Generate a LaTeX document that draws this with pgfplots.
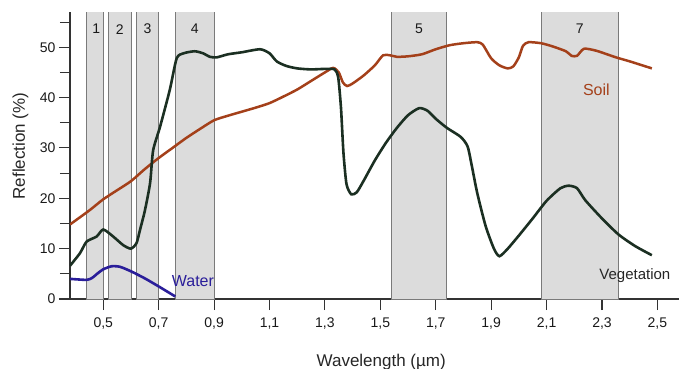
\documentclass[border=0pt]{standalone}
\usepackage{fontspec}
\setmainfont{Liberation Sans}
\usepackage{pgfplots}
\pgfplotsset{compat=1.18}
\definecolor{soilc}{HTML}{A4401A}
\definecolor{vegc}{HTML}{1B2F22}
\definecolor{waterc}{HTML}{2A1E9A}
\definecolor{bandc}{HTML}{DCDCDC}
\definecolor{edgec}{HTML}{7A7A7A}
\begin{document}
\begin{tikzpicture}
\begin{axis}[
  at={(0,0)}, anchor=south west,
  scale only axis, width=609bp, height=287bp,
  xmin=0.38, xmax=2.578, ymin=0, ymax=57,
  axis x line=bottom, axis y line=left,
  axis line style={-, draw=black!80, line width=1.1bp},
  tick align=outside,
  major tick length=11bp, minor tick length=10bp,
  tick style={draw=black!80, line width=1.1bp},
  xtick={0.5,0.7,...,2.5},
  ytick={0,10,...,50},
  minor ytick={5,15,25,35,45,55},
  /pgf/number format/assume math mode=true,
  xticklabel style={/pgf/number format/use comma, /pgf/number format/fixed, /pgf/number format/fixed zerofill, /pgf/number format/precision=1, yshift=-4bp},
  ticklabel style={font=\fontsize{14bp}{16bp}\selectfont, text=black!90},
  xlabel={Wavelength (µm)},
  ylabel={Reflection (\%)},
  label style={font=\fontsize{17bp}{20bp}\selectfont, text=black!85},
  xlabel style={at={(axis description cs:0.511,0)}, anchor=base, yshift=-67bp},
  ylabel style={at={(axis description cs:-0.074,0.533)}, anchor=base},
  clip=true,
]
% bands
\addplot[fill=bandc, draw=edgec, line width=0.9bp] coordinates {(0.44,0) (0.44,60) (0.50,60) (0.50,0)} -- cycle;
\addplot[fill=bandc, draw=edgec, line width=0.9bp] coordinates {(0.52,0) (0.52,60) (0.60,60) (0.60,0)} -- cycle;
\addplot[fill=bandc, draw=edgec, line width=0.9bp] coordinates {(0.62,0) (0.62,60) (0.70,60) (0.70,0)} -- cycle;
\addplot[fill=bandc, draw=edgec, line width=0.9bp] coordinates {(0.76,0) (0.76,60) (0.90,60) (0.90,0)} -- cycle;
\addplot[fill=bandc, draw=edgec, line width=0.9bp] coordinates {(1.54,0) (1.54,60) (1.74,60) (1.74,0)} -- cycle;
\addplot[fill=bandc, draw=edgec, line width=0.9bp] coordinates {(2.08,0) (2.08,60) (2.36,60) (2.36,0)} -- cycle;
% water
\addplot[waterc, line width=2.6bp, smooth, tension=0.4] coordinates {
(0.38,4.0) (0.44,3.8) (0.46,4.2) (0.48,5.1) (0.50,5.9) (0.53,6.5) (0.56,6.4)
(0.60,5.5) (0.65,4.1) (0.70,2.5) (0.76,0.5)};
% soil
\addplot[soilc, line width=2.5bp, smooth, tension=0.4] coordinates {
(0.38,14.8) (0.45,17.6) (0.50,19.8) (0.55,21.6) (0.60,23.4) (0.65,25.8) (0.70,28.0)
(0.75,30.0) (0.80,32.0) (0.85,33.8) (0.90,35.5) (0.95,36.4) (1.00,37.2) (1.05,38.0)
(1.10,38.9) (1.15,40.2) (1.20,41.6) (1.25,43.3) (1.30,45.0) (1.33,45.9) (1.35,45.0)
(1.365,43.0) (1.38,42.3) (1.40,42.8) (1.44,44.4) (1.48,46.4) (1.51,48.4) (1.535,48.4)
(1.56,48.1) (1.60,48.2) (1.65,48.6) (1.70,49.6) (1.75,50.4) (1.80,50.8) (1.85,51.0)
(1.87,50.5) (1.90,47.8) (1.93,46.4) (1.96,45.8) (1.98,46.2) (2.00,48.0) (2.015,50.3)
(2.035,51.0) (2.08,50.8) (2.12,50.2) (2.17,49.2) (2.19,48.3) (2.21,48.3) (2.235,49.7)
(2.28,49.3) (2.35,48.0) (2.40,47.2) (2.48,45.8)};
% vegetation
\addplot[vegc, line width=2.6bp, smooth, tension=0.4] coordinates {
(0.38,6.6) (0.416,9.1) (0.44,11.4) (0.476,12.4) (0.50,13.8) (0.536,12.4) (0.572,10.7)
(0.60,10.0) (0.62,11.1) (0.633,13.8) (0.65,17.5) (0.669,23.0) (0.68,29.5) (0.705,34.2)
(0.74,41.5) (0.765,47.8) (0.79,48.8) (0.83,49.2) (0.86,48.8) (0.885,48.1) (0.91,48.0)
(0.95,48.6) (1.00,49.0) (1.066,49.6) (1.10,48.8) (1.126,47.2) (1.16,46.3) (1.20,45.8)
(1.25,45.6) (1.30,45.7) (1.335,45.6) (1.348,44.0) (1.358,38.0) (1.367,29.0) (1.378,22.8)
(1.395,20.8) (1.415,21.2) (1.44,23.5) (1.48,27.5) (1.52,31.0) (1.56,34.0) (1.60,36.5)
(1.64,37.9) (1.67,37.4) (1.70,35.8) (1.74,34.0) (1.79,32.2) (1.815,30.3) (1.83,26.5)
(1.85,21.0) (1.88,14.5) (1.91,10.0) (1.93,8.5) (1.96,10.0) (2.00,12.6) (2.05,16.0)
(2.10,19.5) (2.15,22.0) (2.18,22.5) (2.21,22.0) (2.24,19.6) (2.30,16.0) (2.36,12.8)
(2.42,10.5) (2.48,8.7)};
% band numbers
\begin{scope}[font=\fontsize{14bp}{16bp}\selectfont, text=black!90]
\node at (axis cs:0.475,53.6) {1};
\node at (axis cs:0.56,53.6) {2};
\node at (axis cs:0.66,53.6) {3};
\node at (axis cs:0.83,53.6) {4};
\node at (axis cs:1.64,53.6) {5};
\node at (axis cs:2.22,53.6) {7};
\end{scope}
\node[anchor=base west, inner sep=0pt, text=waterc, font=\fontsize{16bp}{18bp}\selectfont] at (axis cs:0.747,2.4) {Water};
\node[anchor=base west, inner sep=0pt, text=soilc, font=\fontsize{16bp}{18bp}\selectfont] at (axis cs:2.231,40.5) {Soil};
\node[anchor=base west, inner sep=0pt, text=black!85, font=\fontsize{15bp}{18bp}\selectfont] at (axis cs:2.29,3.8) {Vegetation};
\end{axis}
\pgfresetboundingbox
\useasboundingbox (-70bp,-70bp) rectangle (609bp,299bp);
\end{tikzpicture}
\end{document}
